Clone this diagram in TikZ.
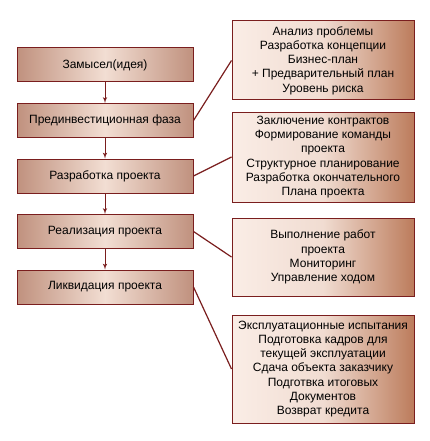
\documentclass[tikz,border=0pt]{standalone}
\usepackage{fontspec}
\setmainfont{Liberation Sans}
\usetikzlibrary{shapes.geometric, arrows}
\definecolor{edgered}{HTML}{7A1E1E}
\definecolor{phaseside}{HTML}{C0917E}
\definecolor{phasemid}{HTML}{F2DED3}
\definecolor{taskpale}{HTML}{FAEDE6}
\definecolor{taskrust}{HTML}{BC7C5C}
\tikzstyle{phase} = [draw=edgered, line width=1pt, rectangle,
left color=phaseside, right color=phaseside, middle color=phasemid,
minimum height=34pt, minimum width=176pt, inner sep=0pt,
font=\fontsize{12}{14}\selectfont]
\tikzstyle{tasks} = [draw=edgered, line width=1pt, rectangle, align=center,
left color=taskpale, right color=taskrust, middle color=taskpale!85!taskrust,
minimum width=182pt, inner sep=0pt, font=\fontsize{12}{14.2}\selectfont]
\tikzstyle{link} = [draw=edgered, line width=1.2pt]

\begin{document}
\begin{tikzpicture}[auto, node distance=55.5pt,>=latex']
	\useasboundingbox (0,0) rectangle (430pt,-441pt);
	% left column of phases
	\node [phase] at (105pt,-65pt) (idea) {Замысел(идея)};
	\node [phase, below of=idea] (preinv) {Прединвестиционная фаза};
	\node [phase, below of=preinv] (design) {Разработка проекта};
	\node [phase, below of=design] (realize) {Реализация проекта};
	\node [phase, below of=realize] (close) {Ликвидация проекта};
	
	% right column with the work of each phase
	\node [tasks, minimum height=79pt] at (323pt,-60.5pt) (preinvtasks)
	{Анализ проблемы\\Разработка концепции\\Бизнес-план\\+ Предварительный план\\Уровень риска};
	\node [tasks, minimum height=90pt] at (323pt,-157pt) (designtasks)
	{Заключение контрактов\\Формирование команды\\проекта\\Структурное планирование\\Разработка окончательного\\Плана проекта};
	\node [tasks, minimum height=78pt] at (323pt,-257pt) (realizetasks)
	{Выполнение работ\\проекта\\Мониторинг\\Управление ходом};
	\node [tasks, minimum height=108pt] at (323pt,-369pt) (closetasks)
	{Эксплуатационные испытания\\Подготовка кадров для\\текущей эксплуатации\\Сдача объекта заказчику\\Подготвка итоговых\\Документов\\Возврат кредита};
	
	% arrows down the phases
	\draw [->, edgered, line width=1pt] (idea) -- (preinv);
	\draw [->, edgered, line width=1pt] (preinv) -- (design);
	\draw [->, edgered, line width=1pt] (design) -- (realize);
	\draw [->, edgered, line width=1pt] (realize) -- (close);
	
	% links to the task boxes
	\draw [link] (preinv.east) -- (preinvtasks.west);
	\draw [link] (design.east) -- (designtasks.west);
	\draw [link] (realize.east) -- (realizetasks.west);
	\draw [link] (close.east) -- (closetasks.west);
\end{tikzpicture}
\end{document}
